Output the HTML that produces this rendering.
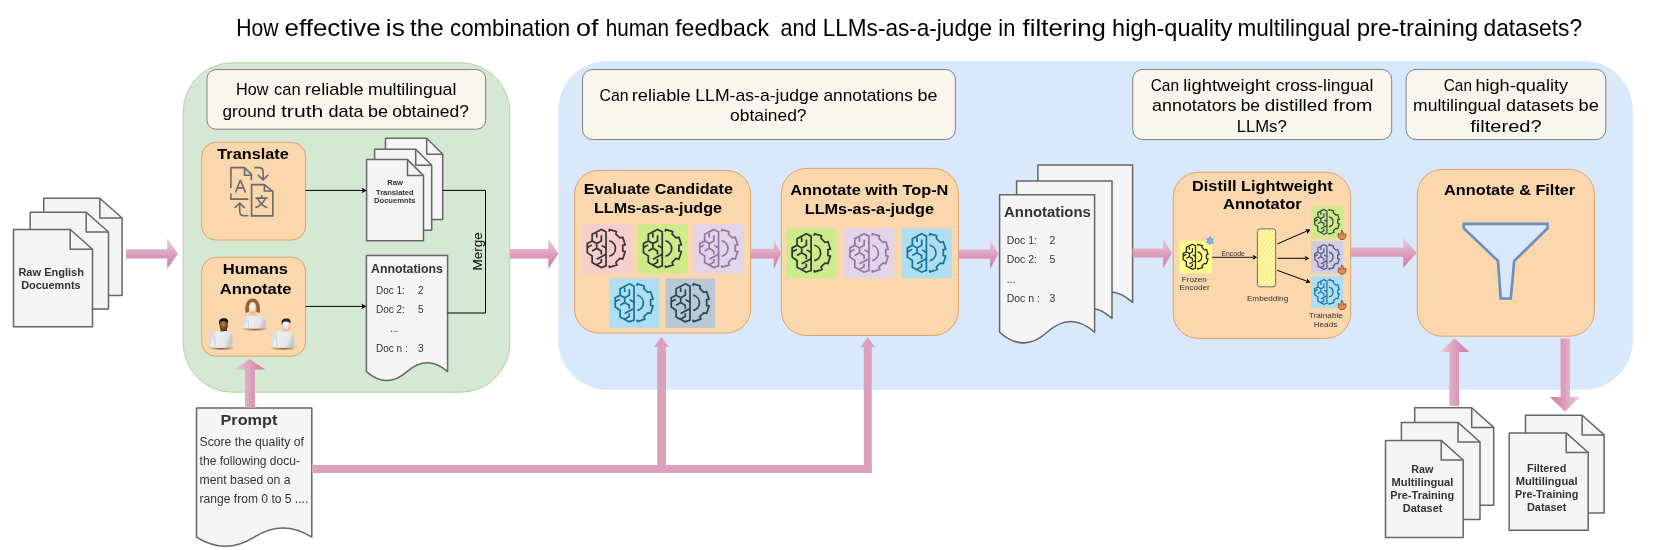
<!DOCTYPE html><html><head><meta charset="utf-8"><style>html,body{margin:0;padding:0;background:#fff;width:1661px;height:550px;overflow:hidden;}svg{display:block;font-family:"Liberation Sans", sans-serif;will-change:transform;}</style></head><body><svg width="1661" height="550" viewBox="0 0 1661 550" font-family='"Liberation Sans", sans-serif'>
<defs><linearGradient id="gv" x1="0" y1="0" x2="0" y2="1"><stop offset="0" stop-color="#e6d0de"/><stop offset="1" stop-color="#d5739d"/></linearGradient><linearGradient id="gh" x1="0" y1="0" x2="1" y2="0"><stop offset="0" stop-color="#e6d0de"/><stop offset="1" stop-color="#d5739d"/></linearGradient><linearGradient id="ghr" x1="1" y1="0" x2="0" y2="0"><stop offset="0" stop-color="#e6d0de"/><stop offset="1" stop-color="#d5739d"/></linearGradient><pattern id="hatch" width="3.2" height="3.2" patternUnits="userSpaceOnUse" patternTransform="rotate(40)"><rect width="3.2" height="3.2" fill="#fff9a8"/><rect width="0.8" height="3.2" fill="#efe27a"/></pattern><linearGradient id="shirt" x1="0" y1="0" x2="1" y2="0.25"><stop offset="0" stop-color="#cfd2da"/><stop offset="0.22" stop-color="#dfe1e7"/><stop offset="0.32" stop-color="#eceef2"/><stop offset="0.8" stop-color="#e4e6eb"/><stop offset="1" stop-color="#c6c9d2"/></linearGradient><radialGradient id="shadow" cx="0.5" cy="0.5" r="0.5"><stop offset="0" stop-color="#5e3e1c" stop-opacity="0.9"/><stop offset="0.55" stop-color="#8a6a40" stop-opacity="0.55"/><stop offset="1" stop-color="#a08060" stop-opacity="0"/></radialGradient><radialGradient id="face1" cx="0.45" cy="0.42" r="0.62"><stop offset="0" stop-color="#b8845a"/><stop offset="0.6" stop-color="#7a4a24"/><stop offset="1" stop-color="#4a2a10"/></radialGradient><radialGradient id="face2" cx="0.45" cy="0.42" r="0.62"><stop offset="0" stop-color="#ffffff"/><stop offset="0.5" stop-color="#f6e4dc"/><stop offset="1" stop-color="#d8a488"/></radialGradient></defs>
<rect width="1661" height="550" fill="#ffffff"/>
<text x="236.2" y="36.3" font-size="24" font-weight="normal" fill="#000" text-anchor="start" textLength="42.2" lengthAdjust="spacingAndGlyphs">How</text>
<text x="284.6" y="36.3" font-size="24" font-weight="normal" fill="#000" text-anchor="start" textLength="96.0" lengthAdjust="spacingAndGlyphs">effective</text>
<text x="385.8" y="36.3" font-size="24" font-weight="normal" fill="#000" text-anchor="start" textLength="19.0" lengthAdjust="spacingAndGlyphs">is</text>
<text x="410.0" y="36.3" font-size="24" font-weight="normal" fill="#000" text-anchor="start" textLength="33.8" lengthAdjust="spacingAndGlyphs">the</text>
<text x="450.0" y="36.3" font-size="24" font-weight="normal" fill="#000" text-anchor="start" textLength="120.2" lengthAdjust="spacingAndGlyphs">combination</text>
<text x="576.0" y="36.3" font-size="24" font-weight="normal" fill="#000" text-anchor="start" textLength="22.4" lengthAdjust="spacingAndGlyphs">of</text>
<text x="605.7" y="36.3" font-size="24" font-weight="normal" fill="#000" text-anchor="start" textLength="63.3" lengthAdjust="spacingAndGlyphs">human</text>
<text x="675.2" y="36.3" font-size="24" font-weight="normal" fill="#000" text-anchor="start" textLength="93.8" lengthAdjust="spacingAndGlyphs">feedback</text>
<text x="780.6" y="36.3" font-size="24" font-weight="normal" fill="#000" text-anchor="start" textLength="35.9" lengthAdjust="spacingAndGlyphs">and</text>
<text x="822.7" y="36.3" font-size="24" font-weight="normal" fill="#000" text-anchor="start" textLength="169.4" lengthAdjust="spacingAndGlyphs">LLMs-as-a-judge</text>
<text x="998.3" y="36.3" font-size="24" font-weight="normal" fill="#000" text-anchor="start" textLength="17.0" lengthAdjust="spacingAndGlyphs">in</text>
<text x="1022.6" y="36.3" font-size="24" font-weight="normal" fill="#000" text-anchor="start" textLength="83.3" lengthAdjust="spacingAndGlyphs">filtering</text>
<text x="1112.1" y="36.3" font-size="24" font-weight="normal" fill="#000" text-anchor="start" textLength="120.2" lengthAdjust="spacingAndGlyphs">high-quality</text>
<text x="1237.5" y="36.3" font-size="24" font-weight="normal" fill="#000" text-anchor="start" textLength="112.7" lengthAdjust="spacingAndGlyphs">multilingual</text>
<text x="1356.7" y="36.3" font-size="24" font-weight="normal" fill="#000" text-anchor="start" textLength="121.4" lengthAdjust="spacingAndGlyphs">pre-training</text>
<text x="1483.5" y="36.3" font-size="24" font-weight="normal" fill="#000" text-anchor="start" textLength="98.6" lengthAdjust="spacingAndGlyphs">datasets?</text>
<rect x="183.2" y="62.8" width="326.6" height="329.4" rx="49" ry="49" fill="#d5e8d4" stroke="#b3d5a3" stroke-width="1"/>
<rect x="207.0" y="69.6" width="278.6" height="59.6" rx="9" ry="9" fill="#f9f7ed" stroke="#7f8283" stroke-width="1"/>
<text x="236.1" y="95.3" font-size="17" font-weight="normal" fill="#000" text-anchor="start" textLength="32.4" lengthAdjust="spacingAndGlyphs">How</text>
<text x="274.0" y="95.3" font-size="17" font-weight="normal" fill="#000" text-anchor="start" textLength="26.6" lengthAdjust="spacingAndGlyphs">can</text>
<text x="305.0" y="95.3" font-size="17" font-weight="normal" fill="#000" text-anchor="start" textLength="58.6" lengthAdjust="spacingAndGlyphs">reliable</text>
<text x="367.9" y="95.3" font-size="17" font-weight="normal" fill="#000" text-anchor="start" textLength="88.5" lengthAdjust="spacingAndGlyphs">multilingual</text>
<text x="222.6" y="116.5" font-size="17" font-weight="normal" fill="#000" text-anchor="start" textLength="53.3" lengthAdjust="spacingAndGlyphs">ground</text>
<text x="281.0" y="116.5" font-size="17" font-weight="normal" fill="#000" text-anchor="start" textLength="42.3" lengthAdjust="spacingAndGlyphs">truth</text>
<text x="328.5" y="116.5" font-size="17" font-weight="normal" fill="#000" text-anchor="start" textLength="35.1" lengthAdjust="spacingAndGlyphs">data</text>
<text x="367.9" y="116.5" font-size="17" font-weight="normal" fill="#000" text-anchor="start" textLength="20.1" lengthAdjust="spacingAndGlyphs">be</text>
<text x="392.2" y="116.5" font-size="17" font-weight="normal" fill="#000" text-anchor="start" textLength="76.7" lengthAdjust="spacingAndGlyphs">obtained?</text>
<rect x="201.8" y="142.3" width="103.8" height="97.7" rx="14" ry="14" fill="#fad7ac" stroke="#dca46a" stroke-width="1"/>
<text x="217.3" y="159.0" font-size="15" font-weight="bold" fill="#000" text-anchor="start" textLength="71.4" lengthAdjust="spacingAndGlyphs">Translate</text>
<g transform="translate(226,163)" fill="none" stroke="#6a6a6a" stroke-width="1.6" stroke-linejoin="miter"><path d="M4.9,25.2 V4.6 H18.3 L25.4,11.2 V17.3"/><path d="M18.6,4.6 V12.2 H25.4"/><path d="M4.9,30.5 V36.1 H22.4"/><path d="M9.5,29.5 L14.4,17.0 L19.4,29.5 M11.3,24.9 H17.6" stroke-linejoin="bevel"/><path d="M25.6,21.6 H38.2 L46.8,28.5 V52.9 H25.6 Z"/><path d="M38.4,21.6 V28 H46.8"/><path d="M35.6,32 V34.8 M29.5,35.1 H41.7 M31.5,35.6 Q35,42 41.2,44.8 M39.4,35.6 Q36,42 29.5,44.8"/><path d="M28.3,4.6 H33 Q37.1,4.6 37.1,9 V16.8 M31.8,11.9 L37.1,16.8 L42.2,11.9"/><path d="M22.4,52.7 H18 Q13.7,52.7 13.7,48 V40.2 M8.6,44.8 L13.7,40.2 L18.8,44.8"/></g>
<rect x="201.8" y="257.2" width="103.8" height="99.0" rx="14" ry="14" fill="#fad7ac" stroke="#dca46a" stroke-width="1"/>
<text x="222.8" y="274.4" font-size="15" font-weight="bold" fill="#000" text-anchor="start" textLength="65.2" lengthAdjust="spacingAndGlyphs">Humans</text>
<text x="219.7" y="294.2" font-size="15" font-weight="bold" fill="#000" text-anchor="start" textLength="71.8" lengthAdjust="spacingAndGlyphs">Annotate</text>
<ellipse cx="221.4" cy="348.2" rx="13.8" ry="2.3" fill="url(#shadow)"/>
<rect x="220.5" y="326.0" width="6.4" height="6.8" rx="1.5" fill="#5a3216"/>
<path d="M216.7,330.8 C212.9,331.4 209.3,333.4 209.3,338.8 V346.8 Q220.9,349.2 232.5,346.8 V338.8 C232.5,333.4 228.9,331.4 225.1,330.8 Q220.9,332.4 216.7,330.8 Z" fill="url(#shirt)"/>
<path d="M214.3,335.3 Q215.5,342.4 214.9,347.4" fill="none" stroke="#b4b7c2" stroke-width="0.7" opacity="0.8"/>
<ellipse cx="223.7" cy="325.0" rx="4.2" ry="6.2" fill="url(#face1)"/>
<path d="M219.1,323.6 C218.7,318.9 221.7,318.1 224.0,318.2 C226.7,318.1 228.5,319.4 228.2,323.0 C225.7,320.7 221.7,320.5 220.1,322.4 L219.9,324.4 Z" fill="#111111"/>
<ellipse cx="254.9" cy="329.0" rx="13.8" ry="2.3" fill="url(#shadow)"/>
<rect x="249.4" y="308.6" width="6.4" height="8.6" rx="1.5" fill="#f2c4a4"/>
<path d="M250.2,315.2 C246.4,315.8 242.8,317.8 242.8,323.2 V327.6 Q254.4,330.0 266.0,327.6 V323.2 C266.0,317.8 262.4,315.8 258.6,315.2 Q254.4,316.8 250.2,315.2 Z" fill="url(#shirt)"/>
<path d="M247.8,319.7 Q249.0,323.2 248.4,328.2" fill="none" stroke="#b4b7c2" stroke-width="0.7" opacity="0.8"/>
<path d="M245.6,313.0 C244.2,306.6 246.6,298.4 252.6,298.4 C258.6,298.4 261.0,306.6 259.6,313.0 L256.4,312.0 L255.8,305.6 L249.4,305.6 L248.8,312.0 Z" fill="#9c5e2c"/>
<ellipse cx="252.6" cy="307.6" rx="3.8" ry="5.9" fill="url(#face2)"/>
<ellipse cx="283.4" cy="348.2" rx="13.8" ry="2.3" fill="url(#shadow)"/>
<rect x="282.9" y="326.3" width="6.4" height="6.5" rx="1.5" fill="#f2c4a4"/>
<path d="M278.7,330.8 C274.9,331.4 271.3,333.4 271.3,338.8 V346.8 Q282.9,349.2 294.5,346.8 V338.8 C294.5,333.4 290.9,331.4 287.1,330.8 Q282.9,332.4 278.7,330.8 Z" fill="url(#shirt)"/>
<path d="M276.3,335.3 Q277.5,342.4 276.9,347.4" fill="none" stroke="#b4b7c2" stroke-width="0.7" opacity="0.8"/>
<ellipse cx="286.1" cy="325.3" rx="4.2" ry="6.2" fill="url(#face2)"/>
<path d="M281.5,323.9 C281.1,319.2 284.1,318.4 286.4,318.5 C289.1,318.4 290.9,319.7 290.6,323.3 C288.1,321.0 284.1,320.8 282.5,322.7 L282.3,324.7 Z" fill="#262626"/>
<path d="M385.5,138.3 H426.7 L442.7,154.3 V219.4 H385.5 Z" fill="#f5f5f5" stroke="#666666" stroke-width="1.5" stroke-linejoin="round"/>
<path d="M426.7,138.3 V154.3 H442.7" fill="none" stroke="#666666" stroke-width="1.5" stroke-linejoin="round"/>
<path d="M374.6,149.2 H415.7 L431.7,165.2 V230.2 H374.6 Z" fill="#f5f5f5" stroke="#666666" stroke-width="1.5" stroke-linejoin="round"/>
<path d="M415.7,149.2 V165.2 H431.7" fill="none" stroke="#666666" stroke-width="1.5" stroke-linejoin="round"/>
<path d="M366.6,159.6 H407.5 L423.5,175.6 V240.7 H366.6 Z" fill="#f5f5f5" stroke="#666666" stroke-width="1.5" stroke-linejoin="round"/>
<path d="M407.5,159.6 V175.6 H423.5" fill="none" stroke="#666666" stroke-width="1.5" stroke-linejoin="round"/>
<text x="387.2" y="185.0" font-size="7.2" font-weight="bold" fill="#333" text-anchor="start" textLength="15.6" lengthAdjust="spacingAndGlyphs">Raw</text>
<text x="376.0" y="194.7" font-size="7.2" font-weight="bold" fill="#333" text-anchor="start" textLength="37.6" lengthAdjust="spacingAndGlyphs">Translated</text>
<text x="374.0" y="203.2" font-size="7.2" font-weight="bold" fill="#333" text-anchor="start" textLength="41.4" lengthAdjust="spacingAndGlyphs">Docuemnts</text>
<path d="M366.4,255.5 H447.6 V371.6 Q427.3,353.9 407.0,371.6 Q386.7,389.4 366.4,371.6 Z" fill="#f5f5f5" stroke="#666666" stroke-width="1.5" stroke-linejoin="round"/>
<text x="371.0" y="273.3" font-size="12" font-weight="bold" fill="#333" text-anchor="start" textLength="71.8" lengthAdjust="spacingAndGlyphs">Annotations</text>
<text x="376.0" y="293.7" font-size="10" font-weight="normal" fill="#333" text-anchor="start">Doc 1:</text>
<text x="418.0" y="293.7" font-size="10" font-weight="normal" fill="#333" text-anchor="start">2</text>
<text x="376.0" y="313.1" font-size="10" font-weight="normal" fill="#333" text-anchor="start">Doc 2:</text>
<text x="418.0" y="313.1" font-size="10" font-weight="normal" fill="#333" text-anchor="start">5</text>
<text x="390.0" y="331.5" font-size="10" font-weight="normal" fill="#333" text-anchor="start">...</text>
<text x="376.0" y="351.9" font-size="10" font-weight="normal" fill="#333" text-anchor="start">Doc n :</text>
<text x="418.0" y="351.9" font-size="10" font-weight="normal" fill="#333" text-anchor="start">3</text>
<g stroke="#000" stroke-width="1" fill="none"><path d="M305.6,190.4 H363"/><path d="M305.6,306.4 H363"/><path d="M442.7,190.4 H485.5 V313 H447.6"/></g>
<path d="M366.6,190.4 L361.6,187.6 L362.8,190.4 L361.6,193.2 Z" fill="#000"/>
<path d="M366.4,306.4 L361.4,303.6 L362.6,306.4 L361.4,309.2 Z" fill="#000"/>
<text x="0" y="0" font-size="13.5" fill="#000" text-anchor="middle" transform="translate(482.4,251.3) rotate(-90)">Merge</text>
<path d="M43.7,198.3 H99.8 L122.1,218.0 V295.5 H43.7 Z" fill="#f5f5f5" stroke="#666666" stroke-width="1.5" stroke-linejoin="round"/>
<path d="M99.8,198.3 V218.0 H122.1" fill="none" stroke="#666666" stroke-width="1.5" stroke-linejoin="round"/>
<path d="M30.2,212.3 H86.2 L108.5,232.0 V309.0 H30.2 Z" fill="#f5f5f5" stroke="#666666" stroke-width="1.5" stroke-linejoin="round"/>
<path d="M86.2,212.3 V232.0 H108.5" fill="none" stroke="#666666" stroke-width="1.5" stroke-linejoin="round"/>
<path d="M13.5,229.5 H70.2 L92.5,249.2 V326.8 H13.5 Z" fill="#f5f5f5" stroke="#666666" stroke-width="1.5" stroke-linejoin="round"/>
<path d="M70.2,229.5 V249.2 H92.5" fill="none" stroke="#666666" stroke-width="1.5" stroke-linejoin="round"/>
<text x="18.4" y="275.8" font-size="11" font-weight="bold" fill="#333" text-anchor="start" textLength="65.6" lengthAdjust="spacingAndGlyphs">Raw English</text>
<text x="21.2" y="288.5" font-size="11" font-weight="bold" fill="#333" text-anchor="start" textLength="59.4" lengthAdjust="spacingAndGlyphs">Docuemnts</text>
<rect x="558.3" y="61.0" width="1074.5" height="328.7" rx="49" ry="49" fill="#dae8fc" stroke="none" stroke-width="1"/>
<rect x="582.5" y="69.5" width="372.9" height="70.0" rx="10" ry="10" fill="#f9f7ed" stroke="#7f8283" stroke-width="1"/>
<text x="599.5" y="100.7" font-size="17" font-weight="normal" fill="#000" text-anchor="start" textLength="29.0" lengthAdjust="spacingAndGlyphs">Can</text>
<text x="631.7" y="100.7" font-size="17" font-weight="normal" fill="#000" text-anchor="start" textLength="58.9" lengthAdjust="spacingAndGlyphs">reliable</text>
<text x="695.3" y="100.7" font-size="17" font-weight="normal" fill="#000" text-anchor="start" textLength="123.4" lengthAdjust="spacingAndGlyphs">LLM-as-a-judge</text>
<text x="823.4" y="100.7" font-size="17" font-weight="normal" fill="#000" text-anchor="start" textLength="89.5" lengthAdjust="spacingAndGlyphs">annotations</text>
<text x="917.6" y="100.7" font-size="17" font-weight="normal" fill="#000" text-anchor="start" textLength="20.0" lengthAdjust="spacingAndGlyphs">be</text>
<text x="730.1" y="121.4" font-size="17" font-weight="normal" fill="#000" text-anchor="start" textLength="76.4" lengthAdjust="spacingAndGlyphs">obtained?</text>
<rect x="1132.7" y="69.4" width="259.0" height="70.2" rx="10" ry="10" fill="#f9f7ed" stroke="#7f8283" stroke-width="1"/>
<text x="1150.7" y="90.6" font-size="17" font-weight="normal" fill="#000" text-anchor="start" textLength="28.3" lengthAdjust="spacingAndGlyphs">Can</text>
<text x="1183.2" y="90.6" font-size="17" font-weight="normal" fill="#000" text-anchor="start" textLength="87.1" lengthAdjust="spacingAndGlyphs">lightweight</text>
<text x="1275.7" y="90.6" font-size="17" font-weight="normal" fill="#000" text-anchor="start" textLength="97.7" lengthAdjust="spacingAndGlyphs">cross-lingual</text>
<text x="1152.1" y="111.3" font-size="17" font-weight="normal" fill="#000" text-anchor="start" textLength="84.4" lengthAdjust="spacingAndGlyphs">annotators</text>
<text x="1240.7" y="111.3" font-size="17" font-weight="normal" fill="#000" text-anchor="start" textLength="19.2" lengthAdjust="spacingAndGlyphs">be</text>
<text x="1264.8" y="111.3" font-size="17" font-weight="normal" fill="#000" text-anchor="start" textLength="63.0" lengthAdjust="spacingAndGlyphs">distilled</text>
<text x="1333.2" y="111.3" font-size="17" font-weight="normal" fill="#000" text-anchor="start" textLength="39.2" lengthAdjust="spacingAndGlyphs">from</text>
<text x="1236.7" y="132.2" font-size="17" font-weight="normal" fill="#000" text-anchor="start" textLength="50.0" lengthAdjust="spacingAndGlyphs">LLMs?</text>
<rect x="1406.1" y="69.4" width="199.7" height="70.2" rx="10" ry="10" fill="#f9f7ed" stroke="#7f8283" stroke-width="1"/>
<text x="1443.8" y="90.6" font-size="17" font-weight="normal" fill="#000" text-anchor="start" textLength="28.1" lengthAdjust="spacingAndGlyphs">Can</text>
<text x="1475.4" y="90.6" font-size="17" font-weight="normal" fill="#000" text-anchor="start" textLength="92.7" lengthAdjust="spacingAndGlyphs">high-quality</text>
<text x="1413.1" y="111.3" font-size="17" font-weight="normal" fill="#000" text-anchor="start" textLength="87.7" lengthAdjust="spacingAndGlyphs">multilingual</text>
<text x="1506.1" y="111.3" font-size="17" font-weight="normal" fill="#000" text-anchor="start" textLength="67.9" lengthAdjust="spacingAndGlyphs">datasets</text>
<text x="1578.5" y="111.3" font-size="17" font-weight="normal" fill="#000" text-anchor="start" textLength="20.3" lengthAdjust="spacingAndGlyphs">be</text>
<text x="1470.3" y="132.2" font-size="17" font-weight="normal" fill="#000" text-anchor="start" textLength="71.3" lengthAdjust="spacingAndGlyphs">filtered?</text>
<rect x="574.5" y="170.4" width="176.2" height="162.6" rx="24" ry="24" fill="#fad7ac" stroke="#dca46a" stroke-width="1"/>
<text x="583.8" y="194.0" font-size="15" font-weight="bold" fill="#000" text-anchor="start" textLength="149.2" lengthAdjust="spacingAndGlyphs">Evaluate Candidate</text>
<text x="594.0" y="212.6" font-size="15" font-weight="bold" fill="#000" text-anchor="start" textLength="128.0" lengthAdjust="spacingAndGlyphs">LLMs-as-a-judge</text>
<rect x="581.5" y="224.0" width="49.7" height="49.7" fill="#f8cecc"/>
<g transform="translate(581.50,224.00) scale(0.9940)" fill="none" stroke="#333333" stroke-width="1.71" stroke-linejoin="miter" stroke-linecap="butt"><path d="M19.9,5.5 L24.7,7.9 V42.1 L19.9,43.8 L10.7,38.8 V32.1 L5.8,28.8 V19.6 L10.7,17 V10.4 Z"/><path d="M15.3,9.1 V13.7 M20,11.2 V17 L15.3,19.6 L10.7,17 M15.3,19.6 V24.4 M5.8,23.6 L10.5,21 M10.7,27.1 L15.3,24.4 L19.9,27.1 V30.6 M20.3,21.6 L24.7,24.1 M15.3,35.4 L24.7,30.4 M15.3,41 L19.9,38.4 V35.2 "/><path d="M27.70,7.70 L28.20,5.50 L35.10,7.70 L34.60,10.10 L38.50,14.00 L41.50,13.40 L43.90,20.90 L41.50,21.40 L41.50,27.30 L43.90,27.80 L41.50,35.20 L38.50,34.70 L34.60,38.60 L35.60,41.10 L28.20,43.50 L27.70,41.60"/><path d="M27.9,17.0 A7.8,7.8 0 0 1 27.9,32.3"/></g>
<rect x="637.7" y="224.0" width="49.7" height="49.7" fill="#cdeb8b"/>
<g transform="translate(637.70,224.00) scale(0.9940)" fill="none" stroke="#2f3336" stroke-width="1.71" stroke-linejoin="miter" stroke-linecap="butt"><path d="M19.9,5.5 L24.7,7.9 V42.1 L19.9,43.8 L10.7,38.8 V32.1 L5.8,28.8 V19.6 L10.7,17 V10.4 Z"/><path d="M15.3,9.1 V13.7 M20,11.2 V17 L15.3,19.6 L10.7,17 M15.3,19.6 V24.4 M5.8,23.6 L10.5,21 M10.7,27.1 L15.3,24.4 L19.9,27.1 V30.6 M20.3,21.6 L24.7,24.1 M15.3,35.4 L24.7,30.4 M15.3,41 L19.9,38.4 V35.2 "/><path d="M27.70,7.70 L28.20,5.50 L35.10,7.70 L34.60,10.10 L38.50,14.00 L41.50,13.40 L43.90,20.90 L41.50,21.40 L41.50,27.30 L43.90,27.80 L41.50,35.20 L38.50,34.70 L34.60,38.60 L35.60,41.10 L28.20,43.50 L27.70,41.60"/><path d="M27.9,17.0 A7.8,7.8 0 0 1 27.9,32.3"/></g>
<rect x="694.0" y="224.0" width="49.7" height="49.7" fill="#e1d5e7"/>
<g transform="translate(694.00,224.00) scale(0.9940)" fill="none" stroke="#9673a6" stroke-width="1.71" stroke-linejoin="miter" stroke-linecap="butt"><path d="M19.9,5.5 L24.7,7.9 V42.1 L19.9,43.8 L10.7,38.8 V32.1 L5.8,28.8 V19.6 L10.7,17 V10.4 Z"/><path d="M15.3,9.1 V13.7 M20,11.2 V17 L15.3,19.6 L10.7,17 M15.3,19.6 V24.4 M5.8,23.6 L10.5,21 M10.7,27.1 L15.3,24.4 L19.9,27.1 V30.6 M20.3,21.6 L24.7,24.1 M15.3,35.4 L24.7,30.4 M15.3,41 L19.9,38.4 V35.2 "/><path d="M27.70,7.70 L28.20,5.50 L35.10,7.70 L34.60,10.10 L38.50,14.00 L41.50,13.40 L43.90,20.90 L41.50,21.40 L41.50,27.30 L43.90,27.80 L41.50,35.20 L38.50,34.70 L34.60,38.60 L35.60,41.10 L28.20,43.50 L27.70,41.60"/><path d="M27.9,17.0 A7.8,7.8 0 0 1 27.9,32.3"/></g>
<rect x="609.5" y="278.4" width="49.6" height="49.6" fill="#b1ddf0"/>
<g transform="translate(609.50,278.40) scale(0.9920)" fill="none" stroke="#10739e" stroke-width="1.71" stroke-linejoin="miter" stroke-linecap="butt"><path d="M19.9,5.5 L24.7,7.9 V42.1 L19.9,43.8 L10.7,38.8 V32.1 L5.8,28.8 V19.6 L10.7,17 V10.4 Z"/><path d="M15.3,9.1 V13.7 M20,11.2 V17 L15.3,19.6 L10.7,17 M15.3,19.6 V24.4 M5.8,23.6 L10.5,21 M10.7,27.1 L15.3,24.4 L19.9,27.1 V30.6 M20.3,21.6 L24.7,24.1 M15.3,35.4 L24.7,30.4 M15.3,41 L19.9,38.4 V35.2 "/><path d="M27.70,7.70 L28.20,5.50 L35.10,7.70 L34.60,10.10 L38.50,14.00 L41.50,13.40 L43.90,20.90 L41.50,21.40 L41.50,27.30 L43.90,27.80 L41.50,35.20 L38.50,34.70 L34.60,38.60 L35.60,41.10 L28.20,43.50 L27.70,41.60"/><path d="M27.9,17.0 A7.8,7.8 0 0 1 27.9,32.3"/></g>
<rect x="665.5" y="278.4" width="49.6" height="49.6" fill="#bac8d3"/>
<g transform="translate(665.50,278.40) scale(0.9920)" fill="none" stroke="#23445d" stroke-width="1.71" stroke-linejoin="miter" stroke-linecap="butt"><path d="M19.9,5.5 L24.7,7.9 V42.1 L19.9,43.8 L10.7,38.8 V32.1 L5.8,28.8 V19.6 L10.7,17 V10.4 Z"/><path d="M15.3,9.1 V13.7 M20,11.2 V17 L15.3,19.6 L10.7,17 M15.3,19.6 V24.4 M5.8,23.6 L10.5,21 M10.7,27.1 L15.3,24.4 L19.9,27.1 V30.6 M20.3,21.6 L24.7,24.1 M15.3,35.4 L24.7,30.4 M15.3,41 L19.9,38.4 V35.2 "/><path d="M27.70,7.70 L28.20,5.50 L35.10,7.70 L34.60,10.10 L38.50,14.00 L41.50,13.40 L43.90,20.90 L41.50,21.40 L41.50,27.30 L43.90,27.80 L41.50,35.20 L38.50,34.70 L34.60,38.60 L35.60,41.10 L28.20,43.50 L27.70,41.60"/><path d="M27.9,17.0 A7.8,7.8 0 0 1 27.9,32.3"/></g>
<rect x="781.3" y="168.4" width="177.1" height="167.1" rx="25" ry="25" fill="#fad7ac" stroke="#dca46a" stroke-width="1"/>
<text x="790.2" y="194.6" font-size="15" font-weight="bold" fill="#000" text-anchor="start" textLength="158.2" lengthAdjust="spacingAndGlyphs">Annotate with Top-N</text>
<text x="804.7" y="213.8" font-size="15" font-weight="bold" fill="#000" text-anchor="start" textLength="129.3" lengthAdjust="spacingAndGlyphs">LLMs-as-a-judge</text>
<rect x="786.3" y="228.2" width="50.2" height="50.2" fill="#cdeb8b"/>
<g transform="translate(786.30,228.20) scale(1.0040)" fill="none" stroke="#2f3336" stroke-width="1.69" stroke-linejoin="miter" stroke-linecap="butt"><path d="M19.9,5.5 L24.7,7.9 V42.1 L19.9,43.8 L10.7,38.8 V32.1 L5.8,28.8 V19.6 L10.7,17 V10.4 Z"/><path d="M15.3,9.1 V13.7 M20,11.2 V17 L15.3,19.6 L10.7,17 M15.3,19.6 V24.4 M5.8,23.6 L10.5,21 M10.7,27.1 L15.3,24.4 L19.9,27.1 V30.6 M20.3,21.6 L24.7,24.1 M15.3,35.4 L24.7,30.4 M15.3,41 L19.9,38.4 V35.2 "/><path d="M27.70,7.70 L28.20,5.50 L35.10,7.70 L34.60,10.10 L38.50,14.00 L41.50,13.40 L43.90,20.90 L41.50,21.40 L41.50,27.30 L43.90,27.80 L41.50,35.20 L38.50,34.70 L34.60,38.60 L35.60,41.10 L28.20,43.50 L27.70,41.60"/><path d="M27.9,17.0 A7.8,7.8 0 0 1 27.9,32.3"/></g>
<rect x="844.1" y="228.2" width="50.2" height="50.2" fill="#e1d5e7"/>
<g transform="translate(844.10,228.20) scale(1.0040)" fill="none" stroke="#9673a6" stroke-width="1.69" stroke-linejoin="miter" stroke-linecap="butt"><path d="M19.9,5.5 L24.7,7.9 V42.1 L19.9,43.8 L10.7,38.8 V32.1 L5.8,28.8 V19.6 L10.7,17 V10.4 Z"/><path d="M15.3,9.1 V13.7 M20,11.2 V17 L15.3,19.6 L10.7,17 M15.3,19.6 V24.4 M5.8,23.6 L10.5,21 M10.7,27.1 L15.3,24.4 L19.9,27.1 V30.6 M20.3,21.6 L24.7,24.1 M15.3,35.4 L24.7,30.4 M15.3,41 L19.9,38.4 V35.2 "/><path d="M27.70,7.70 L28.20,5.50 L35.10,7.70 L34.60,10.10 L38.50,14.00 L41.50,13.40 L43.90,20.90 L41.50,21.40 L41.50,27.30 L43.90,27.80 L41.50,35.20 L38.50,34.70 L34.60,38.60 L35.60,41.10 L28.20,43.50 L27.70,41.60"/><path d="M27.9,17.0 A7.8,7.8 0 0 1 27.9,32.3"/></g>
<rect x="901.6" y="228.2" width="50.2" height="50.2" fill="#b1ddf0"/>
<g transform="translate(901.60,228.20) scale(1.0040)" fill="none" stroke="#10739e" stroke-width="1.69" stroke-linejoin="miter" stroke-linecap="butt"><path d="M19.9,5.5 L24.7,7.9 V42.1 L19.9,43.8 L10.7,38.8 V32.1 L5.8,28.8 V19.6 L10.7,17 V10.4 Z"/><path d="M15.3,9.1 V13.7 M20,11.2 V17 L15.3,19.6 L10.7,17 M15.3,19.6 V24.4 M5.8,23.6 L10.5,21 M10.7,27.1 L15.3,24.4 L19.9,27.1 V30.6 M20.3,21.6 L24.7,24.1 M15.3,35.4 L24.7,30.4 M15.3,41 L19.9,38.4 V35.2 "/><path d="M27.70,7.70 L28.20,5.50 L35.10,7.70 L34.60,10.10 L38.50,14.00 L41.50,13.40 L43.90,20.90 L41.50,21.40 L41.50,27.30 L43.90,27.80 L41.50,35.20 L38.50,34.70 L34.60,38.60 L35.60,41.10 L28.20,43.50 L27.70,41.60"/><path d="M27.9,17.0 A7.8,7.8 0 0 1 27.9,32.3"/></g>
<path d="M1037.9,164.9 H1132.6 V302.4 Q1108.9,281.1 1085.2,302.4 Q1061.6,323.8 1037.9,302.4 Z" fill="#f5f5f5" stroke="#666666" stroke-width="1.5" stroke-linejoin="round"/>
<path d="M1016.6,180.9 H1112.0 V318.4 Q1088.2,297.1 1064.3,318.4 Q1040.5,339.8 1016.6,318.4 Z" fill="#f5f5f5" stroke="#666666" stroke-width="1.5" stroke-linejoin="round"/>
<path d="M999.6,194.7 H1094.6 V332.2 Q1070.8,310.9 1047.1,332.2 Q1023.4,353.6 999.6,332.2 Z" fill="#f5f5f5" stroke="#666666" stroke-width="1.5" stroke-linejoin="round"/>
<text x="1004.1" y="217.0" font-size="15" font-weight="bold" fill="#333" text-anchor="start" textLength="86.7" lengthAdjust="spacingAndGlyphs">Annotations</text>
<text x="1006.7" y="243.6" font-size="10.5" font-weight="normal" fill="#333" text-anchor="start">Doc 1:</text>
<text x="1049.5" y="243.6" font-size="10.5" font-weight="normal" fill="#333" text-anchor="start">2</text>
<text x="1006.7" y="263.1" font-size="10.5" font-weight="normal" fill="#333" text-anchor="start">Doc 2:</text>
<text x="1049.5" y="263.1" font-size="10.5" font-weight="normal" fill="#333" text-anchor="start">5</text>
<text x="1006.7" y="282.6" font-size="10.5" font-weight="normal" fill="#333" text-anchor="start">...</text>
<text x="1006.7" y="302.1" font-size="10.5" font-weight="normal" fill="#333" text-anchor="start">Doc n :</text>
<text x="1049.5" y="302.1" font-size="10.5" font-weight="normal" fill="#333" text-anchor="start">3</text>
<rect x="1173.2" y="172.2" width="177.5" height="166.2" rx="25" ry="25" fill="#fad7ac" stroke="#dca46a" stroke-width="1"/>
<text x="1192.0" y="190.5" font-size="15" font-weight="bold" fill="#000" text-anchor="start" textLength="140.7" lengthAdjust="spacingAndGlyphs">Distill Lightweight</text>
<text x="1223.1" y="209.2" font-size="15" font-weight="bold" fill="#000" text-anchor="start" textLength="78.5" lengthAdjust="spacingAndGlyphs">Annotator</text>
<rect x="1179.4" y="240.7" width="32.6" height="32.6" fill="#ffff88"/>
<g transform="translate(1179.40,240.70) scale(0.6520)" fill="none" stroke="#222222" stroke-width="1.92" stroke-linejoin="miter" stroke-linecap="butt"><path d="M19.9,5.5 L24.7,7.9 V42.1 L19.9,43.8 L10.7,38.8 V32.1 L5.8,28.8 V19.6 L10.7,17 V10.4 Z"/><path d="M15.3,9.1 V13.7 M20,11.2 V17 L15.3,19.6 L10.7,17 M15.3,19.6 V24.4 M5.8,23.6 L10.5,21 M10.7,27.1 L15.3,24.4 L19.9,27.1 V30.6 M20.3,21.6 L24.7,24.1 M15.3,35.4 L24.7,30.4 M15.3,41 L19.9,38.4 V35.2 "/><path d="M27.70,7.70 L28.20,5.50 L35.10,7.70 L34.60,10.10 L38.50,14.00 L41.50,13.40 L43.90,20.90 L41.50,21.40 L41.50,27.30 L43.90,27.80 L41.50,35.20 L38.50,34.70 L34.60,38.60 L35.60,41.10 L28.20,43.50 L27.70,41.60"/><path d="M27.9,17.0 A7.8,7.8 0 0 1 27.9,32.3"/></g>
<text x="1181.8" y="281.6" font-size="8" font-weight="normal" fill="#333" text-anchor="start" textLength="25.0" lengthAdjust="spacingAndGlyphs">Frozen</text>
<text x="1179.6" y="290.4" font-size="8" font-weight="normal" fill="#333" text-anchor="start" textLength="30.1" lengthAdjust="spacingAndGlyphs">Encoder</text>
<polygon points="1210.00,236.10 1211.50,238.20 1214.07,238.45 1213.00,240.80 1214.07,243.15 1211.50,243.40 1210.00,245.50 1208.50,243.40 1205.93,243.15 1207.00,240.80 1205.93,238.45 1208.50,238.20" fill="#7fa5e4"/>
<circle cx="1210.0" cy="240.8" r="1.2" fill="#9dbcef"/>
<text x="1221.4" y="255.8" font-size="6.8" font-weight="normal" fill="#333" text-anchor="start" textLength="23.5" lengthAdjust="spacingAndGlyphs">Encode</text>
<path d="M1212.1,257.3 H1253" stroke="#000" stroke-width="0.9"/>
<path d="M1257.2,257.3 L1252.5,254.8 L1253.6,257.3 L1252.5,259.8 Z" fill="#000"/>
<rect x="1257.4" y="228.9" width="18.2" height="57.9" rx="2.5" fill="url(#hatch)" stroke="#6f6f6f" stroke-width="1"/>
<text x="1246.9" y="300.6" font-size="8" font-weight="normal" fill="#333" text-anchor="start" textLength="41.3" lengthAdjust="spacingAndGlyphs">Embedding</text>
<g stroke="#000" stroke-width="1" fill="none"><path d="M1277.2,244.0 L1306.5,231.2"/><path d="M1277.5,258.3 H1305.3"/><path d="M1277.2,270.3 L1306.5,281.0"/></g>
<path d="M1310.5,229.5 L1305.3,229.2 L1306.8,231.3 L1307.4,233.9 Z" fill="#000"/>
<path d="M1309.3,258.3 L1304.6,255.8 L1305.7,258.3 L1304.6,260.8 Z" fill="#000"/>
<path d="M1310.5,282.4 L1307.2,278.4 L1306.8,281.0 L1305.5,283.2 Z" fill="#000"/>
<rect x="1311.0" y="206.0" width="32.2" height="32.2" fill="#cdeb8b"/>
<g transform="translate(1311.00,206.00) scale(0.6440)" fill="none" stroke="#36393d" stroke-width="1.86" stroke-linejoin="miter" stroke-linecap="butt"><path d="M19.9,5.5 L24.7,7.9 V42.1 L19.9,43.8 L10.7,38.8 V32.1 L5.8,28.8 V19.6 L10.7,17 V10.4 Z"/><path d="M15.3,9.1 V13.7 M20,11.2 V17 L15.3,19.6 L10.7,17 M15.3,19.6 V24.4 M5.8,23.6 L10.5,21 M10.7,27.1 L15.3,24.4 L19.9,27.1 V30.6 M20.3,21.6 L24.7,24.1 M15.3,35.4 L24.7,30.4 M15.3,41 L19.9,38.4 V35.2 "/><path d="M27.70,7.70 L28.20,5.50 L35.10,7.70 L34.60,10.10 L38.50,14.00 L41.50,13.40 L43.90,20.90 L41.50,21.40 L41.50,27.30 L43.90,27.80 L41.50,35.20 L38.50,34.70 L34.60,38.60 L35.60,41.10 L28.20,43.50 L27.70,41.60"/><path d="M27.9,17.0 A7.8,7.8 0 0 1 27.9,32.3"/></g>
<rect x="1311.0" y="241.1" width="32.2" height="32.2" fill="#d0cee2"/>
<g transform="translate(1311.00,241.10) scale(0.6440)" fill="none" stroke="#56517e" stroke-width="1.86" stroke-linejoin="miter" stroke-linecap="butt"><path d="M19.9,5.5 L24.7,7.9 V42.1 L19.9,43.8 L10.7,38.8 V32.1 L5.8,28.8 V19.6 L10.7,17 V10.4 Z"/><path d="M15.3,9.1 V13.7 M20,11.2 V17 L15.3,19.6 L10.7,17 M15.3,19.6 V24.4 M5.8,23.6 L10.5,21 M10.7,27.1 L15.3,24.4 L19.9,27.1 V30.6 M20.3,21.6 L24.7,24.1 M15.3,35.4 L24.7,30.4 M15.3,41 L19.9,38.4 V35.2 "/><path d="M27.70,7.70 L28.20,5.50 L35.10,7.70 L34.60,10.10 L38.50,14.00 L41.50,13.40 L43.90,20.90 L41.50,21.40 L41.50,27.30 L43.90,27.80 L41.50,35.20 L38.50,34.70 L34.60,38.60 L35.60,41.10 L28.20,43.50 L27.70,41.60"/><path d="M27.9,17.0 A7.8,7.8 0 0 1 27.9,32.3"/></g>
<rect x="1311.0" y="276.1" width="32.2" height="32.2" fill="#b1ddf0"/>
<g transform="translate(1311.00,276.10) scale(0.6440)" fill="none" stroke="#10739e" stroke-width="1.86" stroke-linejoin="miter" stroke-linecap="butt"><path d="M19.9,5.5 L24.7,7.9 V42.1 L19.9,43.8 L10.7,38.8 V32.1 L5.8,28.8 V19.6 L10.7,17 V10.4 Z"/><path d="M15.3,9.1 V13.7 M20,11.2 V17 L15.3,19.6 L10.7,17 M15.3,19.6 V24.4 M5.8,23.6 L10.5,21 M10.7,27.1 L15.3,24.4 L19.9,27.1 V30.6 M20.3,21.6 L24.7,24.1 M15.3,35.4 L24.7,30.4 M15.3,41 L19.9,38.4 V35.2 "/><path d="M27.70,7.70 L28.20,5.50 L35.10,7.70 L34.60,10.10 L38.50,14.00 L41.50,13.40 L43.90,20.90 L41.50,21.40 L41.50,27.30 L43.90,27.80 L41.50,35.20 L38.50,34.70 L34.60,38.60 L35.60,41.10 L28.20,43.50 L27.70,41.60"/><path d="M27.9,17.0 A7.8,7.8 0 0 1 27.9,32.3"/></g>
<path d="M1342.0,239.5 C1338.0,239.5 1337.7,235.8 1338.6,233.1 C1339.4,234.7 1340.3,235.1 1340.8,234.7 C1340.7,232.7 1341.4,231.1 1341.8,230.1 C1343.0,231.7 1343.7,233.3 1343.5,234.7 C1344.1,234.4 1345.0,233.8 1345.7,233.4 C1346.5,235.8 1346.1,239.5 1342.0,239.5 Z" fill="#f08a30" stroke="#4a3a55" stroke-width="0.7"/>
<path d="M1342.0,274.2 C1338.0,274.2 1337.7,270.5 1338.6,267.8 C1339.4,269.4 1340.3,269.8 1340.8,269.4 C1340.7,267.4 1341.4,265.8 1341.8,264.8 C1343.0,266.4 1343.7,268.0 1343.5,269.4 C1344.1,269.1 1345.0,268.5 1345.7,268.1 C1346.5,270.5 1346.1,274.2 1342.0,274.2 Z" fill="#f08a30" stroke="#4a3a55" stroke-width="0.7"/>
<path d="M1342.0,309.6 C1338.0,309.6 1337.7,305.9 1338.6,303.2 C1339.4,304.8 1340.3,305.2 1340.8,304.8 C1340.7,302.8 1341.4,301.2 1341.8,300.2 C1343.0,301.8 1343.7,303.4 1343.5,304.8 C1344.1,304.5 1345.0,303.9 1345.7,303.5 C1346.5,305.9 1346.1,309.6 1342.0,309.6 Z" fill="#f08a30" stroke="#4a3a55" stroke-width="0.7"/>
<text x="1308.8" y="317.8" font-size="8" font-weight="normal" fill="#333" text-anchor="start" textLength="34.1" lengthAdjust="spacingAndGlyphs">Trainable</text>
<text x="1313.7" y="326.6" font-size="8" font-weight="normal" fill="#333" text-anchor="start" textLength="23.6" lengthAdjust="spacingAndGlyphs">Heads</text>
<rect x="1417.3" y="169.4" width="177.2" height="166.8" rx="25" ry="25" fill="#fad7ac" stroke="#dca46a" stroke-width="1"/>
<text x="1444.1" y="194.6" font-size="15" font-weight="bold" fill="#000" text-anchor="start" textLength="131.1" lengthAdjust="spacingAndGlyphs">Annotate &amp; Filter</text>
<path d="M1463.7,223.9 H1547.5 V228.3 L1514.2,260.9 L1510.8,298.5 H1500.7 L1498.0,260.9 L1463.7,228.3 Z" fill="#dae8fc" stroke="#6c8ebf" stroke-width="2.6" stroke-linejoin="miter"/>
<path d="M1414.7,407.8 H1471.7 L1493.7,427.4 V505.2 H1414.7 Z" fill="#f5f5f5" stroke="#666666" stroke-width="1.5" stroke-linejoin="round"/>
<path d="M1471.7,407.8 V427.4 H1493.7" fill="none" stroke="#666666" stroke-width="1.5" stroke-linejoin="round"/>
<path d="M1401.4,422.4 H1458.0 L1480.0,442.0 V519.4 H1401.4 Z" fill="#f5f5f5" stroke="#666666" stroke-width="1.5" stroke-linejoin="round"/>
<path d="M1458.0,422.4 V442.0 H1480.0" fill="none" stroke="#666666" stroke-width="1.5" stroke-linejoin="round"/>
<path d="M1385.5,440.4 H1441.2 L1463.2,460.0 V537.4 H1385.5 Z" fill="#f5f5f5" stroke="#666666" stroke-width="1.5" stroke-linejoin="round"/>
<path d="M1441.2,440.4 V460.0 H1463.2" fill="none" stroke="#666666" stroke-width="1.5" stroke-linejoin="round"/>
<text x="1411.2" y="472.6" font-size="10.8" font-weight="bold" fill="#333" text-anchor="start" textLength="22.1" lengthAdjust="spacingAndGlyphs">Raw</text>
<text x="1391.6" y="485.9" font-size="10.8" font-weight="bold" fill="#333" text-anchor="start" textLength="61.8" lengthAdjust="spacingAndGlyphs">Multilingual</text>
<text x="1390.3" y="499.1" font-size="10.8" font-weight="bold" fill="#333" text-anchor="start" textLength="63.9" lengthAdjust="spacingAndGlyphs">Pre-Training</text>
<text x="1402.8" y="512.4" font-size="10.8" font-weight="bold" fill="#333" text-anchor="start" textLength="39.7" lengthAdjust="spacingAndGlyphs">Dataset</text>
<path d="M1525.5,415.3 H1582.1 L1604.1,434.9 V513.1 H1525.5 Z" fill="#f5f5f5" stroke="#666666" stroke-width="1.5" stroke-linejoin="round"/>
<path d="M1582.1,415.3 V434.9 H1604.1" fill="none" stroke="#666666" stroke-width="1.5" stroke-linejoin="round"/>
<path d="M1509.2,432.9 H1566.2 L1588.2,452.5 V530.3 H1509.2 Z" fill="#f5f5f5" stroke="#666666" stroke-width="1.5" stroke-linejoin="round"/>
<path d="M1566.2,432.9 V452.5 H1588.2" fill="none" stroke="#666666" stroke-width="1.5" stroke-linejoin="round"/>
<text x="1527.0" y="472.1" font-size="10.8" font-weight="bold" fill="#333" text-anchor="start" textLength="39.3" lengthAdjust="spacingAndGlyphs">Filtered</text>
<text x="1515.7" y="485.1" font-size="10.8" font-weight="bold" fill="#333" text-anchor="start" textLength="61.8" lengthAdjust="spacingAndGlyphs">Multilingual</text>
<text x="1514.9" y="498.0" font-size="10.8" font-weight="bold" fill="#333" text-anchor="start" textLength="63.5" lengthAdjust="spacingAndGlyphs">Pre-Training</text>
<text x="1527.0" y="511.0" font-size="10.8" font-weight="bold" fill="#333" text-anchor="start" textLength="39.3" lengthAdjust="spacingAndGlyphs">Dataset</text>
<path d="M196.5,408.0 H311.8 V537.1 Q283.0,518.8 254.2,537.1 Q225.3,555.3 196.5,537.1 Z" fill="#f5f5f5" stroke="#666666" stroke-width="1.5" stroke-linejoin="round"/>
<text x="220.5" y="424.8" font-size="15" font-weight="bold" fill="#333" text-anchor="start" textLength="56.9" lengthAdjust="spacingAndGlyphs">Prompt</text>
<text x="199.6" y="446.1" font-size="12" font-weight="normal" fill="#333" text-anchor="start" textLength="104.2" lengthAdjust="spacingAndGlyphs">Score the quality of</text>
<text x="199.6" y="465.1" font-size="12" font-weight="normal" fill="#333" text-anchor="start" textLength="100.4" lengthAdjust="spacingAndGlyphs">the following docu-</text>
<text x="199.6" y="484.1" font-size="12" font-weight="normal" fill="#333" text-anchor="start" textLength="90.9" lengthAdjust="spacingAndGlyphs">ment based on a</text>
<text x="199.6" y="503.1" font-size="12" font-weight="normal" fill="#333" text-anchor="start" textLength="108.7" lengthAdjust="spacingAndGlyphs">range from 0 to 5 ....</text>
<path d="M126.0,249.2 H167.2 V238.5 L178.0,253.7 L167.2,268.8 V258.4 H126.0 Z" fill="url(#gv)"/>
<path d="M510.0,249.0 H548.3 V238.6 L558.5,253.7 L548.3,268.8 V258.4 H510.0 Z" fill="url(#gv)"/>
<path d="M750.7,248.8 H773.8 V239.0 L781.0,253.9 L773.8,268.8 V258.6 H750.7 Z" fill="url(#gv)"/>
<path d="M958.4,249.4 H990.2 V239.2 L998.2,254.0 L990.2,268.8 V258.8 H958.4 Z" fill="url(#gv)"/>
<path d="M1132.6,248.4 H1163.2 V238.1 L1171.8,253.1 L1163.2,268.0 V257.6 H1132.6 Z" fill="url(#gv)"/>
<path d="M1351.0,247.6 H1403.2 V237.8 L1417.0,252.7 L1403.2,267.6 V256.8 H1351.0 Z" fill="url(#gv)"/>
<path d="M245.0,407.7 V369.5 H234.6 L249.9,359.1 L265.2,369.5 H254.9 V407.7 Z" fill="url(#gh)"/>
<path d="M1449.3,406.1 V352.1 H1439.8 L1454.5,338.5 L1469.3,352.1 H1459.1 V406.1 Z" fill="url(#gh)"/>
<path d="M1560.6,338.5 V397.1 H1549.9 L1564.9,411.8 L1579.9,397.1 H1569.9 V338.5 Z" fill="url(#ghr)"/>
<path d="M311.8,465.0 H871.8 V473.0 H311.8 Z" fill="#dca0bc"/>
<path d="M657.2,473.0 V346.9 H654.0 L661.5,336.8 L669.0,346.9 H666.0 V473.0 Z" fill="#dca0bc"/>
<path d="M863.8,473.0 V347.3 H860.5 L867.8,337.3 L875.0,347.3 H871.8 V473.0 Z" fill="#dca0bc"/>
</svg></body></html>
